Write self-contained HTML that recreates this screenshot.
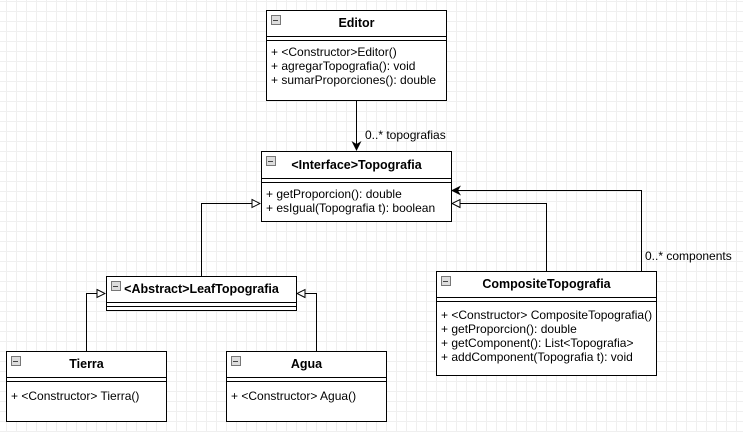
<!DOCTYPE html><html><head><style>
body{margin:0;width:743px;height:432px;overflow:hidden;background:#fff;
background-image:linear-gradient(#efefef 1px,transparent 1px),linear-gradient(90deg,#efefef 1px,transparent 1px);background-size:10px 10px;background-position:-4px -9px;
font-family:"Liberation Sans",sans-serif;font-size:12px;color:#000}
.c{position:absolute;border:1px solid #000;background:#fff;box-sizing:border-box}
.h{font-weight:bold;text-align:center;font-size:12.5px;border-bottom:1px solid #000;position:relative}
.h:before{content:"";position:absolute;left:4px;top:4px;width:8px;height:8px;border:1px solid #777;background:#ddd}
.h:after{content:"";position:absolute;left:6px;top:9px;width:5px;height:1px;background:#444}
.s{border-top:1px solid #000;margin-top:3px}
.b{padding:4px 0 0 4px;line-height:14px;white-space:nowrap}
svg{position:absolute;left:0;top:0}
.l{position:absolute;font-size:12px}
</style></head><body>
<svg width="743" height="432">
<defs>
<marker id="f" markerWidth="10" markerHeight="10" refX="9" refY="5" orient="auto" markerUnits="userSpaceOnUse"><path d="M0,0 L10,5 L0,10 L3,5z" fill="#000"/></marker>
<marker id="g" markerWidth="10" markerHeight="10" refX="9" refY="5" orient="auto" markerUnits="userSpaceOnUse"><path d="M1,1 L9,5 L1,9z" fill="#fff" stroke="#000"/></marker>
</defs>
<g stroke="#000" fill="none">
<path d="M356.5 100V150" marker-end="url(#f)"/>
<path d="M201.5 276V203.5H260" marker-end="url(#g)"/>
<path d="M86.5 351V293.5H105" marker-end="url(#g)"/>
<path d="M316.5 351V293.5H297" marker-end="url(#g)"/>
<path d="M546.5 271V203.5H452" marker-end="url(#g)"/>
<path d="M641.5 271V190.5H452" marker-end="url(#f)"/>
</g></svg>
<div class="l" style="left:365px;top:128px">0..* topografias</div>
<div class="l" style="left:645px;top:249px">0..* components</div>
<div class="c" style="left:266px;top:10px;width:181px;height:91px"><div class="h" style="height:25px;line-height:25px">Editor</div><div class="s"></div><div class="b">+ &lt;Constructor&gt;Editor()<br>+ agregarTopografia(): void<br>+ sumarProporciones(): double</div></div>
<div class="c" style="left:261px;top:151px;width:191px;height:71px"><div class="h" style="height:26px;line-height:26px">&lt;Interface&gt;Topografia</div><div class="s"></div><div class="b">+ getProporcion(): double<br>+ esIgual(Topografia t): boolean</div></div>
<div class="c" style="left:106px;top:276px;width:191px;height:35px"><div class="h" style="height:25px;line-height:25px">&lt;Abstract&gt;LeafTopografia</div><div class="s"></div></div>
<div class="c" style="left:6px;top:351px;width:161px;height:71px"><div class="h" style="height:25px;line-height:25px">Tierra</div><div class="s"></div><div class="b" style="padding-top:7px">+ &lt;Constructor&gt; Tierra()</div></div>
<div class="c" style="left:226px;top:351px;width:161px;height:71px"><div class="h" style="height:25px;line-height:25px">Agua</div><div class="s"></div><div class="b" style="padding-top:7px">+ &lt;Constructor&gt; Agua()</div></div>
<div class="c" style="left:436px;top:271px;width:221px;height:105px"><div class="h" style="height:25px;line-height:25px">CompositeTopografia</div><div class="s"></div><div class="b" style="padding-top:6px">+ &lt;Constructor&gt; CompositeTopografia()<br>+ getProporcion(): double<br>+ getComponent(): List&lt;Topografia&gt;<br>+ addComponent(Topografia t): void</div></div>
</body></html>
